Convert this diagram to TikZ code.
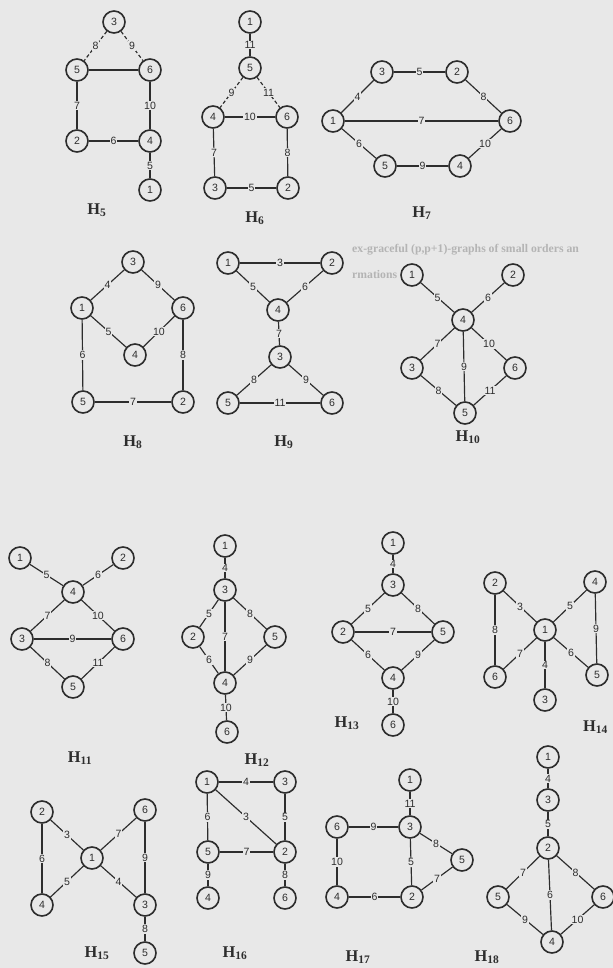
\documentclass[tikz,border=0pt]{standalone}
\usepackage{fontspec}
\setmainfont{Liberation Serif}
\setsansfont{Liberation Sans}
\definecolor{paper}{RGB}{232,232,232}
\definecolor{ink}{RGB}{45,45,45}
\definecolor{ghost}{RGB}{180,180,180}
\tikzset{
  vtx/.style={circle,draw=ink,line width=1.4pt,minimum size=0.66cm,inner sep=0pt,fill=paper,text=ink,font=\fontsize{9}{9}\sffamily},
  link/.style={draw=ink,line width=1pt},
  faint/.style={link,densely dashed},
  lab/.style={fill=paper,inner sep=0.7pt,text=ink,font=\fontsize{9}{9}\sffamily},
  gname/.style={text=ink,font=\fontsize{14}{14}\selectfont},
  ghosttext/.style={text=ghost,anchor=west,inner sep=0pt,font=\fontsize{10}{10}\selectfont\bfseries}
}
\newcommand{\Hname}[1]{\textbf{H}\textsubscript{\textbf{#1}}}
\begin{document}
\begin{tikzpicture}[x=0.03cm,y=-0.03cm]
\fill[paper] (0,0) rectangle (613,968);
\useasboundingbox (0,0) rectangle (613,968);
% faint heading showing through the page
\node[ghosttext] (g-a) at (352,250) {ex-graceful (p,p+1)-graphs of small orders an};
\node[ghosttext] (g-b) at (352,274) {rmations};
% H5
\node[vtx] (a3) at (114,22) {3};
\node[vtx] (a5) at (77,70) {5};
\node[vtx] (a6) at (150,70) {6};
\node[vtx] (a2) at (77,141) {2};
\node[vtx] (a4) at (150,141) {4};
\node[vtx] (a1) at (150,190) {1};
\draw[faint] (a3) -- node[lab]{8} (a5);
\draw[faint] (a3) -- node[lab]{9} (a6);
\draw[link] (a5) -- (a6);
\draw[link] (a5) -- node[lab]{7} (a2);
\draw[link] (a6) -- node[lab]{10} (a4);
\draw[link] (a2) -- node[lab]{6} (a4);
\draw[link] (a4) -- node[lab]{5} (a1);
\node[gname] (t5) at (97,210) {\Hname{5}};
% H6
\node[vtx] (b1) at (250,22) {1};
\node[vtx] (b5) at (250,68) {5};
\node[vtx] (b4) at (213,117) {4};
\node[vtx] (b6) at (287,117) {6};
\node[vtx] (b3) at (215,188) {3};
\node[vtx] (b2) at (288,188) {2};
\draw[link] (b1) -- node[lab]{11} (b5);
\draw[faint] (b5) -- node[lab]{9} (b4);
\draw[faint] (b5) -- node[lab]{11} (b6);
\draw[link] (b4) -- node[lab]{10} (b6);
\draw[link] (b4) -- node[lab]{7} (b3);
\draw[link] (b6) -- node[lab]{8} (b2);
\draw[link] (b3) -- node[lab]{5} (b2);
\node[gname] (t6) at (255,218) {\Hname{6}};
% H7
\node[vtx] (c3) at (382,72) {3};
\node[vtx] (c2) at (457,72) {2};
\node[vtx] (c1) at (333,121) {1};
\node[vtx] (c6) at (510,121) {6};
\node[vtx] (c5) at (385,166) {5};
\node[vtx] (c4) at (460,166) {4};
\draw[link] (c1) -- node[lab]{4} (c3);
\draw[link] (c3) -- node[lab]{5} (c2);
\draw[link] (c2) -- node[lab]{8} (c6);
\draw[link] (c1) -- node[lab]{7} (c6);
\draw[link] (c1) -- node[lab]{6} (c5);
\draw[link] (c5) -- node[lab]{9} (c4);
\draw[link] (c4) -- node[lab]{10} (c6);
\node[gname] (t7) at (422,213) {\Hname{7}};
% H8
\node[vtx] (d3) at (133,262) {3};
\node[vtx] (d1) at (82,308) {1};
\node[vtx] (d6) at (183,308) {6};
\node[vtx] (d4) at (135,355) {4};
\node[vtx] (d5) at (83,402) {5};
\node[vtx] (d2) at (183,402) {2};
\draw[link] (d3) -- node[lab]{4} (d1);
\draw[link] (d3) -- node[lab]{9} (d6);
\draw[link] (d1) -- node[lab]{5} (d4);
\draw[link] (d6) -- node[lab]{10} (d4);
\draw[link] (d1) -- node[lab]{6} (d5);
\draw[link] (d6) -- node[lab]{8} (d2);
\draw[link] (d5) -- node[lab]{7} (d2);
\node[gname] (t8) at (133,442) {\Hname{8}};
% H9
\node[vtx] (e1) at (228,263) {1};
\node[vtx] (e2) at (332,263) {2};
\node[vtx] (e4) at (278,310) {4};
\node[vtx] (e3) at (280,357) {3};
\node[vtx] (e5) at (228,403) {5};
\node[vtx] (e6) at (332,403) {6};
\draw[link] (e1) -- node[lab]{3} (e2);
\draw[link] (e1) -- node[lab]{5} (e4);
\draw[link] (e2) -- node[lab]{6} (e4);
\draw[link] (e4) -- node[lab]{7} (e3);
\draw[link] (e3) -- node[lab]{8} (e5);
\draw[link] (e3) -- node[lab]{9} (e6);
\draw[link] (e5) -- node[lab]{11} (e6);
\node[gname] (t9) at (284,442) {\Hname{9}};
% H10
\node[vtx] (f1) at (412,275) {1};
\node[vtx] (f2) at (513,275) {2};
\node[vtx] (f4) at (463,320) {4};
\node[vtx] (f3) at (412,368) {3};
\node[vtx] (f6) at (515,368) {6};
\node[vtx] (f5) at (465,413) {5};
\draw[link] (f1) -- node[lab]{5} (f4);
\draw[link] (f2) -- node[lab]{6} (f4);
\draw[link] (f4) -- node[lab]{7} (f3);
\draw[link] (f4) -- node[lab]{9} (f5);
\draw[link] (f4) -- node[lab]{10} (f6);
\draw[link] (f3) -- node[lab]{8} (f5);
\draw[link] (f6) -- node[lab]{11} (f5);
\node[gname] (t10) at (468,437) {\Hname{10}};
% H11
\node[vtx] (g1) at (20,558) {1};
\node[vtx] (g2) at (123,558) {2};
\node[vtx] (g4) at (73,592) {4};
\node[vtx] (g3) at (22,639) {3};
\node[vtx] (g6) at (123,639) {6};
\node[vtx] (g5) at (73,687) {5};
\draw[link] (g1) -- node[lab]{5} (g4);
\draw[link] (g2) -- node[lab]{6} (g4);
\draw[link] (g4) -- node[lab]{7} (g3);
\draw[link] (g4) -- node[lab]{10} (g6);
\draw[link] (g3) -- node[lab]{9} (g6);
\draw[link] (g3) -- node[lab]{8} (g5);
\draw[link] (g6) -- node[lab]{11} (g5);
\node[gname] (t11) at (80,758) {\Hname{11}};
% H12
\node[vtx] (h1) at (225,546) {1};
\node[vtx] (h3) at (225,590) {3};
\node[vtx] (h2) at (193,637) {2};
\node[vtx] (h5) at (275,637) {5};
\node[vtx] (h4) at (225,683) {4};
\node[vtx] (h6) at (227,732) {6};
\draw[link] (h1) -- node[lab]{4} (h3);
\draw[link] (h3) -- node[lab]{5} (h2);
\draw[link] (h3) -- node[lab]{8} (h5);
\draw[link] (h3) -- node[lab]{7} (h4);
\draw[link] (h2) -- node[lab]{6} (h4);
\draw[link] (h5) -- node[lab]{9} (h4);
\draw[link] (h4) -- node[lab]{10} (h6);
\node[gname] (t12) at (257,760) {\Hname{12}};
% H13
\node[vtx] (i1) at (393,543) {1};
\node[vtx] (i3) at (393,585) {3};
\node[vtx] (i2) at (343,632) {2};
\node[vtx] (i5) at (443,632) {5};
\node[vtx] (i4) at (393,678) {4};
\node[vtx] (i6) at (393,725) {6};
\draw[link] (i1) -- node[lab]{4} (i3);
\draw[link] (i3) -- node[lab]{5} (i2);
\draw[link] (i3) -- node[lab]{8} (i5);
\draw[link] (i2) -- node[lab]{7} (i5);
\draw[link] (i2) -- node[lab]{6} (i4);
\draw[link] (i5) -- node[lab]{9} (i4);
\draw[link] (i4) -- node[lab]{10} (i6);
\node[gname] (t13) at (347,723) {\Hname{13}};
% H14
\node[vtx] (j2) at (495,583) {2};
\node[vtx] (j4) at (595,582) {4};
\node[vtx] (j1) at (545,630) {1};
\node[vtx] (j6) at (495,677) {6};
\node[vtx] (j5) at (597,675) {5};
\node[vtx] (j3) at (545,700) {3};
\draw[link] (j2) -- node[lab]{3} (j1);
\draw[link] (j4) -- node[lab]{5} (j1);
\draw[link] (j2) -- node[lab]{8} (j6);
\draw[link] (j4) -- node[lab]{9} (j5);
\draw[link] (j1) -- node[lab]{7} (j6);
\draw[link] (j1) -- node[lab]{6} (j5);
\draw[link] (j1) -- node[lab]{4} (j3);
\node[gname,anchor=east] (t14) at (612,727) {\Hname{14}};
% H15
\node[vtx] (k2) at (42,812) {2};
\node[vtx] (k6) at (145,810) {6};
\node[vtx] (k1) at (92,858) {1};
\node[vtx] (k4) at (42,905) {4};
\node[vtx] (k3) at (145,905) {3};
\node[vtx] (k5) at (145,953) {5};
\draw[link] (k2) -- node[lab]{3} (k1);
\draw[link] (k6) -- node[lab]{7} (k1);
\draw[link] (k2) -- node[lab]{6} (k4);
\draw[link] (k1) -- node[lab]{5} (k4);
\draw[link] (k1) -- node[lab]{4} (k3);
\draw[link] (k6) -- node[lab]{9} (k3);
\draw[link] (k3) -- node[lab]{8} (k5);
\node[gname] (t15) at (97,953) {\Hname{15}};
% H16
\node[vtx] (l1) at (207,782) {1};
\node[vtx] (l3) at (285,782) {3};
\node[vtx] (l5) at (208,852) {5};
\node[vtx] (l2) at (285,852) {2};
\node[vtx] (l4) at (208,898) {4};
\node[vtx] (l6) at (285,898) {6};
\draw[link] (l1) -- node[lab]{4} (l3);
\draw[link] (l1) -- node[lab]{6} (l5);
\draw[link] (l1) -- node[lab]{3} (l2);
\draw[link] (l3) -- node[lab]{5} (l2);
\draw[link] (l5) -- node[lab]{7} (l2);
\draw[link] (l5) -- node[lab]{9} (l4);
\draw[link] (l2) -- node[lab]{8} (l6);
\node[gname] (t16) at (235,953) {\Hname{16}};
% H17
\node[vtx] (m1) at (410,780) {1};
\node[vtx] (m3) at (410,827) {3};
\node[vtx] (m6) at (337,827) {6};
\node[vtx] (m5) at (462,860) {5};
\node[vtx] (m4) at (337,897) {4};
\node[vtx] (m2) at (412,897) {2};
\draw[link] (m1) -- node[lab]{11} (m3);
\draw[link] (m6) -- node[lab]{9} (m3);
\draw[link] (m3) -- node[lab]{8} (m5);
\draw[link] (m6) -- node[lab]{10} (m4);
\draw[link] (m3) -- node[lab]{5} (m2);
\draw[link] (m4) -- node[lab]{6} (m2);
\draw[link] (m2) -- node[lab]{7} (m5);
\node[gname] (t17) at (358,957) {\Hname{17}};
% H18
\node[vtx] (n1) at (548,757) {1};
\node[vtx] (n3) at (548,800) {3};
\node[vtx] (n2) at (548,848) {2};
\node[vtx] (n5) at (498,897) {5};
\node[vtx] (n6) at (603,897) {6};
\node[vtx] (n4) at (552,942) {4};
\draw[link] (n1) -- node[lab]{4} (n3);
\draw[link] (n3) -- node[lab]{5} (n2);
\draw[link] (n2) -- node[lab]{7} (n5);
\draw[link] (n2) -- node[lab]{8} (n6);
\draw[link] (n2) -- node[lab]{6} (n4);
\draw[link] (n5) -- node[lab]{9} (n4);
\draw[link] (n6) -- node[lab]{10} (n4);
\node[gname] (t18) at (487,957) {\Hname{18}};
\end{tikzpicture}
\end{document}
